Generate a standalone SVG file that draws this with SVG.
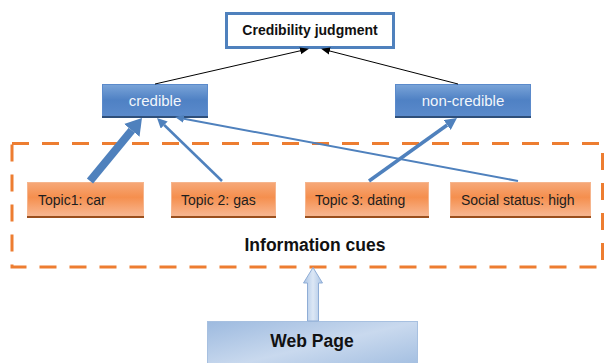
<svg xmlns="http://www.w3.org/2000/svg" width="605" height="363" viewBox="0 0 605 363">
  <defs>
    <linearGradient id="gBlue" x1="0" y1="0" x2="0" y2="1">
      <stop offset="0" stop-color="#7AA4D8"/>
      <stop offset="0.5" stop-color="#4F81C4"/>
      <stop offset="1" stop-color="#5A8ACB"/>
    </linearGradient>
    <linearGradient id="gOrange" x1="0" y1="0" x2="0" y2="1">
      <stop offset="0" stop-color="#F6A878"/>
      <stop offset="0.45" stop-color="#F58F4E"/>
      <stop offset="1" stop-color="#F8B690"/>
    </linearGradient>
    <linearGradient id="gWeb" x1="0" y1="0" x2="1" y2="1">
      <stop offset="0" stop-color="#9DBADF"/>
      <stop offset="0.5" stop-color="#C9D9EE"/>
      <stop offset="1" stop-color="#9EBBDF"/>
    </linearGradient>
    <linearGradient id="gArrow" x1="0" y1="0" x2="1" y2="0">
      <stop offset="0" stop-color="#A9C3E4"/>
      <stop offset="0.5" stop-color="#DCE7F5"/>
      <stop offset="1" stop-color="#A9C3E4"/>
    </linearGradient>
    <marker id="ahK" markerUnits="userSpaceOnUse" viewBox="0 -4 9 8" markerWidth="9" markerHeight="8" refX="0" refY="0" orient="auto">
      <path d="M0,-3.5 L9,0 L0,3.5z" fill="#000"/>
    </marker>
    <marker id="ahB20" markerUnits="userSpaceOnUse" viewBox="0 -10 16 20" markerWidth="16" markerHeight="20" refX="0" refY="0" orient="auto">
      <path d="M0,-10 L16,0 L0,10z" fill="#4F81BD"/>
    </marker>
    <marker id="ahB12" markerUnits="userSpaceOnUse" viewBox="0 -6 12 12" markerWidth="12" markerHeight="12" refX="0" refY="0" orient="auto">
      <path d="M0,-6 L12,0 L0,6z" fill="#4F81BD"/>
    </marker>
    <marker id="ahB10" markerUnits="userSpaceOnUse" viewBox="0 -5 10 10" markerWidth="10" markerHeight="10" refX="0" refY="0" orient="auto">
      <path d="M0,-5 L10,0 L0,5z" fill="#4F81BD"/>
    </marker>
    <marker id="ahB8" markerUnits="userSpaceOnUse" viewBox="0 -4 9 8" markerWidth="9" markerHeight="8" refX="0" refY="0" orient="auto">
      <path d="M0,-4 L9,0 L0,4z" fill="#4F81BD"/>
    </marker>
  </defs>
  <style>
    .lbl { font-family: "Liberation Sans", Arial, sans-serif; }
    .bold { font-weight: bold; }
    .blueBox { fill: url(#gBlue); stroke: #5B8ACB; stroke-width: 1; }
    .blueShadow { fill: #2E4F7A; }
    .orangeBox { fill: url(#gOrange); stroke: #F6B58D; stroke-width: 1; }
    .orangeShadow { fill: #9A4F1E; }
    .blueTxt { fill: #F2F6FB; font-size: 15px; }
    .orTxt { fill: #1E1E1E; font-size: 14px; }
    .blk { stroke: #000; stroke-width: 1; fill: none; }
    .bl { stroke: #4F81BD; fill: none; }
  </style>

  <!-- Information cues dashed container -->
  <g id="information-cues">
    <rect x="12" y="143.5" width="590.5" height="123.5" fill="none" stroke="#ED7D31" stroke-width="3" stroke-dasharray="17 13"/>
    <text class="lbl bold" x="315" y="251" font-size="17.5" text-anchor="middle" fill="#111">Information cues</text>
  </g>

  <g id="credibility-judgment">
    <rect x="226.5" y="13.5" width="167" height="34" fill="#fff" stroke="#4F81BD" stroke-width="3"/>
    <text class="lbl bold" x="310" y="35" font-size="14" text-anchor="middle" fill="#111">Credibility judgment</text>
  </g>

  <g id="credible">
    <rect class="blueShadow" x="102" y="115" width="106" height="3"/>
    <rect class="blueBox" x="102.5" y="84.5" width="105" height="31"/>
    <text class="lbl blueTxt" x="155" y="106" text-anchor="middle">credible</text>
  </g>

  <g id="non-credible">
    <rect class="blueShadow" x="395" y="115" width="136" height="3"/>
    <rect class="blueBox" x="395.5" y="84.5" width="135" height="31"/>
    <text class="lbl blueTxt" x="463" y="106" text-anchor="middle">non-credible</text>
  </g>

  <g id="topic1">
    <rect class="orangeShadow" x="27" y="215" width="117" height="3"/>
    <rect class="orangeBox" x="27.5" y="182.5" width="116" height="33"/>
    <text class="lbl orTxt" x="38" y="205">Topic1: car</text>
  </g>

  <g id="topic2">
    <rect class="orangeShadow" x="171" y="215" width="105" height="3"/>
    <rect class="orangeBox" x="171.5" y="182.5" width="104" height="33"/>
    <text class="lbl orTxt" x="181" y="205">Topic 2: gas</text>
  </g>

  <g id="topic3">
    <rect class="orangeShadow" x="305" y="215" width="124" height="3"/>
    <rect class="orangeBox" x="305.5" y="182.5" width="123" height="33"/>
    <text class="lbl orTxt" x="315" y="205">Topic 3: dating</text>
  </g>

  <g id="social-status">
    <rect class="orangeShadow" x="450" y="215" width="141" height="3"/>
    <rect class="orangeBox" x="450.5" y="182.5" width="140" height="33"/>
    <text class="lbl orTxt" x="461" y="205">Social status: high</text>
  </g>

  <g id="web-page">
    <rect x="207.5" y="321.5" width="210" height="50" fill="url(#gWeb)" stroke="#A7C0E0" stroke-width="1"/>
    <text class="lbl bold" x="312" y="346.5" font-size="17.5" text-anchor="middle" fill="#111">Web Page</text>
  </g>

  <g id="connectors">
    <line class="blk" x1="155" y1="84" x2="300.2" y2="50.8" marker-end="url(#ahK)"/>
    <line class="blk" x1="458" y1="84" x2="329.8" y2="51" marker-end="url(#ahK)"/>
    <line class="bl" stroke-width="8" x1="90" y1="181" x2="131.8" y2="130.3" marker-end="url(#ahB20)"/>
    <line class="bl" stroke-width="2.5" x1="222" y1="181" x2="164.2" y2="125" marker-end="url(#ahB10)"/>
    <line class="bl" stroke-width="2" x1="518" y1="181" x2="183.9" y2="118.7" marker-end="url(#ahB8)"/>
    <line class="bl" stroke-width="3.5" x1="369" y1="181" x2="447.2" y2="125" marker-end="url(#ahB12)"/>
    <polygon points="307.5,321 307.5,283 303.5,283 313,267.5 322.5,283 318.5,283 318.5,321" fill="url(#gArrow)" stroke="#8FADD6" stroke-width="1"/>
  </g>
</svg>
